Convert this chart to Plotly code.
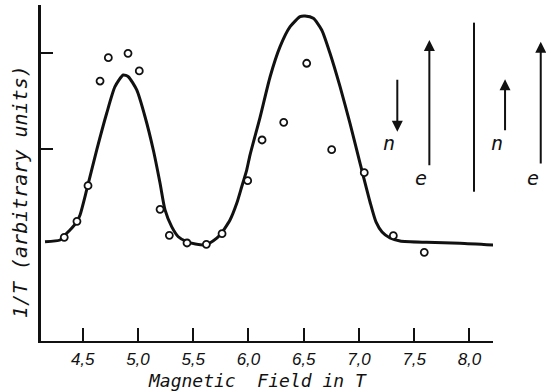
import plotly.graph_objects as go

# measured data points (open circles)
pts_x = [4.333, 4.448, 4.548, 4.657, 4.732, 4.910, 5.012, 5.200, 5.284, 5.444,
         5.619, 5.761, 5.993, 6.123, 6.319, 6.527, 6.753, 7.048, 7.311, 7.591]
pts_y = [1.080, 1.247, 1.618, 2.708, 2.951, 2.997, 2.813, 1.372, 1.101, 1.021,
         1.007, 1.118, 1.670, 2.094, 2.278, 2.893, 1.993, 1.753, 1.097, 0.924]

# fitted curve
curve_x = [4.159, 4.295, 4.324, 4.400, 4.446, 4.476, 4.536, 4.627, 4.717, 4.792,
           4.867, 4.913, 4.989, 5.064, 5.139, 5.200, 5.245, 5.305, 5.365, 5.441,
           5.520, 5.607, 5.682, 5.743, 5.833, 5.894, 5.939, 5.984, 6.014, 6.105,
           6.196, 6.286, 6.377, 6.467, 6.512, 6.587, 6.663, 6.738, 6.829, 6.919,
           7.010, 7.100, 7.154, 7.209, 7.281, 7.372, 7.613, 7.914, 8.249]
curve_y = [1.034, 1.052, 1.086, 1.174, 1.243, 1.313, 1.573, 1.990, 2.372, 2.649,
           2.771, 2.753, 2.615, 2.336, 1.990, 1.643, 1.365, 1.191, 1.086, 1.034,
           1.010, 1.000, 1.045, 1.104, 1.260, 1.434, 1.607, 1.781, 1.937, 2.330,
           2.753, 3.066, 3.274, 3.378, 3.385, 3.361, 3.240, 2.997, 2.649, 2.268,
           1.851, 1.448, 1.240, 1.135, 1.073, 1.042, 1.028, 1.018, 0.997]

x_tickvals = [4.5, 5.0, 5.5, 6.0, 6.5, 7.0, 7.5, 8.0]
x_ticktext = ["4,5", "5,0", "5,5", "6,0", "6,5", "7,0", "7,5", "8,0"]
y_tickvals = [2, 3]

# spin arrows (n = nuclear, e = electron)
arrow_x = [7.347, 7.637, 8.322, 8.645]
arrow_tail_y = [2.736, 1.816, 2.180, 1.833]
arrow_head_y = [2.180, 3.135, 2.726, 3.118]
arrow_labels = ["n", "e", "n", "e"]
label_y = [2.06, 1.70, 2.06, 1.70]

divider_x = 8.041
divider_y = [1.555, 3.316]

X_RANGE = [4.1226, 8.213]
Y_RANGE = [0, 3.5]

def to_paper(x):
    return (x - X_RANGE[0]) / (X_RANGE[1] - X_RANGE[0])

fig = go.Figure()
fig.add_trace(go.Scatter(x=curve_x, y=curve_y, mode="lines",
                         line=dict(color="#111111", width=3, shape="spline", smoothing=0.6),
                         hoverinfo="skip", cliponaxis=False))
fig.add_trace(go.Scatter(x=pts_x, y=pts_y, mode="markers",
                         marker=dict(size=7, color="white", line=dict(color="#111111", width=1.8)),
                         cliponaxis=False))
fig.add_trace(go.Scatter(x=[divider_x, divider_x], y=divider_y, mode="lines",
                         line=dict(color="#111111", width=2), hoverinfo="skip"))

annotations = []
for xv, ty, hy, lab, ly in zip(arrow_x, arrow_tail_y, arrow_head_y, arrow_labels, label_y):
    annotations.append(dict(x=to_paper(xv), xref="paper", y=hy, yref="y",
                            ax=0, axref="pixel", ay=ty, ayref="y",
                            text="", showarrow=True, arrowhead=2, arrowsize=1.1,
                            arrowwidth=2, arrowcolor="#111111"))
    annotations.append(dict(x=to_paper(xv), xref="paper", y=ly, yref="y",
                            text=lab, showarrow=False,
                            font=dict(family="DejaVu Sans Mono", size=20, color="#111111", style="italic")))

annotations.append(dict(x=0.479, y=-0.119, xref="paper", yref="paper",
                        text="Magnetic  Field in T", showarrow=False,
                        xanchor="center", yanchor="middle",
                        font=dict(family="DejaVu Sans Mono", size=18, color="#111111", style="italic")))
annotations.append(dict(x=-0.0465, y=0.446, xref="paper", yref="paper",
                        text="1/T (arbitrary units)", showarrow=False, textangle=-90,
                        xanchor="center", yanchor="middle",
                        font=dict(family="DejaVu Sans Mono", size=20, color="#111111", style="italic")))

fig.update_layout(
    width=546, height=392,
    margin=dict(l=41, r=53, t=5, b=51),
    paper_bgcolor="white", plot_bgcolor="white",
    showlegend=False,
    annotations=annotations,
    xaxis=dict(range=X_RANGE, tickvals=x_tickvals, ticktext=x_ticktext,
               ticks="inside", ticklen=13, tickwidth=2, tickcolor="#111111",
               showline=True, linewidth=2, linecolor="#111111",
               showgrid=False, zeroline=False, ticklabelstandoff=2,
               tickfont=dict(family="Liberation Sans", size=17, color="#111111", style="italic")),
    yaxis=dict(range=Y_RANGE, tickvals=y_tickvals, showticklabels=False,
               ticks="inside", ticklen=12, tickwidth=2, tickcolor="#111111",
               showline=True, linewidth=2.5, linecolor="#111111",
               showgrid=False, zeroline=False),
)

fig.write_html("out.html", config={"displayModeBar": False},
               post_script="document.body.style.margin='0';document.body.style.padding='0';")
